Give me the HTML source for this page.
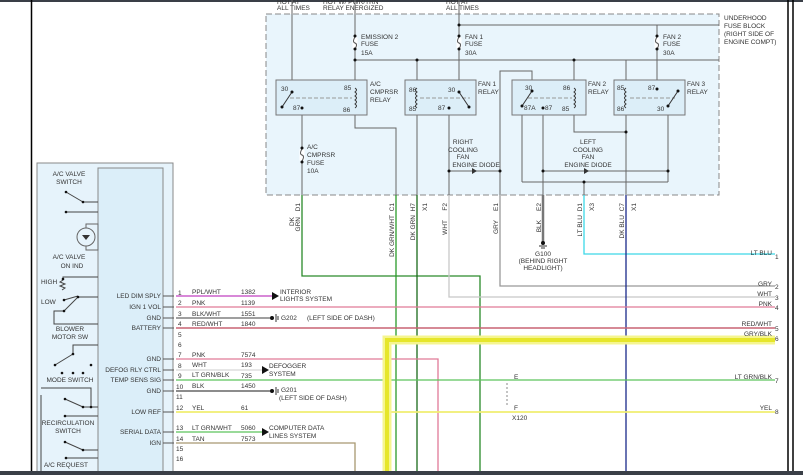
<!DOCTYPE html>
<html><head><meta charset="utf-8"><style>
html,body{margin:0;padding:0;background:#fff;}
svg{display:block;font-family:"Liberation Sans",sans-serif;}
text{font-size:6.5px;fill:#333;}
</style></head><body>
<svg width="803" height="475" viewBox="0 0 803 475" xmlns="http://www.w3.org/2000/svg">
<rect x="0" y="0" width="803" height="475" fill="#fff"/>
<rect x="0" y="0" width="803" height="2" fill="#3a3f47"/>
<line x1="31.5" y1="0" x2="31.5" y2="475" stroke="#000" stroke-width="1.5"/>
<line x1="788" y1="0" x2="788" y2="475" stroke="#000" stroke-width="1.5"/>
<line x1="793" y1="0" x2="793" y2="475" stroke="#000" stroke-width="1.5"/>

<!-- fuse block -->
<rect x="266" y="14" width="453" height="181" fill="#e9f5fc" stroke="#888" stroke-dasharray="6,3" stroke-width="1"/>
<text x="277" y="4">HOT AT</text><text x="277" y="10">ALL TIMES</text>
<text x="323" y="4">HOT W/ PWR/TRN</text><text x="323" y="10">RELAY ENERGIZED</text>
<text x="446" y="4">HOT AT</text><text x="446" y="10">ALL TIMES</text>
<text x="724" y="20">UNDERHOOD</text><text x="724" y="28">FUSE BLOCK</text><text x="724" y="36">(RIGHT SIDE OF</text><text x="724" y="44">ENGINE COMPT)</text>

<g stroke="#666" stroke-width="1" fill="none">
<line x1="292" y1="0" x2="292" y2="80"/>
<line x1="355" y1="0" x2="355" y2="80"/>
<line x1="459" y1="0" x2="459" y2="80"/>
<line x1="459" y1="25" x2="719" y2="25"/>
<line x1="355" y1="60" x2="719" y2="60"/>
<line x1="417" y1="60" x2="417" y2="80"/>
<line x1="574" y1="60" x2="574" y2="80"/>
<line x1="626" y1="60" x2="626" y2="80"/>
<line x1="657" y1="25" x2="657" y2="80"/>
<polyline points="500,195 500,71 532,71 532,80"/>
<line x1="302" y1="115" x2="302" y2="195"/>
<polyline points="355,115 355,128 396,128 396,195"/>
<line x1="417" y1="115" x2="417" y2="195"/>
<line x1="449" y1="115" x2="449" y2="195"/>
<line x1="449" y1="171" x2="500" y2="171"/>
<line x1="522" y1="115" x2="522" y2="182"/>
<line x1="522" y1="182" x2="668" y2="182"/>
<line x1="543" y1="115" x2="543" y2="195"/>
<line x1="543" y1="171" x2="668" y2="171"/>
<polyline points="574,115 574,132 626,132"/>
<line x1="626" y1="115" x2="626" y2="195"/>
<line x1="668" y1="115" x2="668" y2="182"/>
<line x1="584" y1="182" x2="584" y2="195"/>
</g>
<!-- fuses -->
<g fill="#fff" stroke="#fff"><rect x="353" y="38" width="4" height="10"/><rect x="457" y="38" width="4" height="10"/><rect x="655" y="38" width="4" height="10"/><rect x="300" y="150" width="4" height="10"/></g>
<g fill="none" stroke="#555"><path d="M355,37 q-3,5 0,6 q3,1 0,6"/><path d="M459,37 q-3,5 0,6 q3,1 0,6"/><path d="M657,37 q-3,5 0,6 q3,1 0,6"/><path d="M302,149 q-3,5 0,6 q3,1 0,6"/></g>
<g fill="#111"><circle cx="355" cy="36" r="1.5"/><circle cx="355" cy="49" r="1.5"/><circle cx="459" cy="36" r="1.5"/><circle cx="459" cy="49" r="1.5"/><circle cx="657" cy="36" r="1.5"/><circle cx="657" cy="49" r="1.5"/><circle cx="302" cy="148" r="1.5"/><circle cx="302" cy="162" r="1.5"/><circle cx="355" cy="60" r="1.5"/><circle cx="417" cy="60" r="1.5"/><circle cx="459" cy="25" r="1.5"/><circle cx="574" cy="60" r="1.5"/><circle cx="449" cy="171" r="1.5"/><circle cx="500" cy="171" r="1.5"/><circle cx="543" cy="171" r="1.5"/><circle cx="668" cy="171" r="1.5"/><circle cx="584" cy="182" r="1.5"/><circle cx="626" cy="132" r="1.5"/></g>
<text x="361" y="39">EMISSION 2</text><text x="361" y="46">FUSE</text><text x="361" y="55">15A</text>
<text x="465" y="39">FAN 1</text><text x="465" y="46">FUSE</text><text x="465" y="55">30A</text>
<text x="663" y="39">FAN 2</text><text x="663" y="46">FUSE</text><text x="663" y="55">30A</text>
<text x="307" y="149">A/C</text><text x="307" y="157">CMPRSR</text><text x="307" y="165">FUSE</text><text x="307" y="173">10A</text>
<text x="463" y="144" text-anchor="middle">RIGHT</text><text x="463" y="152" text-anchor="middle">COOLING</text><text x="463" y="159" text-anchor="middle">FAN</text><text x="476" y="167" text-anchor="middle">ENGINE DIODE</text>
<text x="588" y="144" text-anchor="middle">LEFT</text><text x="588" y="152" text-anchor="middle">COOLING</text><text x="588" y="159" text-anchor="middle">FAN</text><text x="588" y="167" text-anchor="middle">ENGINE DIODE</text>
<polygon points="472,168 477,171 472,174" fill="#333"/><polygon points="584,168 589,171 584,174" fill="#333"/>

<!-- relays -->
<g fill="#dceef8" stroke="#777" stroke-width="1">
<rect x="276" y="80" width="91" height="35"/><rect x="405" y="80" width="71" height="35"/><rect x="512" y="80" width="74" height="35"/><rect x="614" y="80" width="71" height="35"/>
</g>
<g stroke="#999" stroke-dasharray="4,2"><line x1="290" y1="98" x2="352" y2="98"/><line x1="420" y1="98" x2="470" y2="98"/><line x1="528" y1="98" x2="572" y2="98"/><line x1="630" y1="98" x2="675" y2="98"/></g>
<g stroke="#333" fill="none"><line x1="282" y1="107" x2="292" y2="92"/><line x1="459" y1="92" x2="469" y2="107"/><line x1="522" y1="106" x2="532" y2="91"/><line x1="668" y1="106" x2="678" y2="91"/>
<path d="M355,88 q3,2 0,4 q3,2 0,4 q3,2 0,4 q3,2 0,4 q3,2 0,4"/><path d="M417,88 q-3,2 0,4 q-3,2 0,4 q-3,2 0,4 q-3,2 0,4 q-3,2 0,4"/><path d="M574,88 q3,2 0,4 q3,2 0,4 q3,2 0,4 q3,2 0,4 q3,2 0,4"/><path d="M626,88 q-3,2 0,4 q-3,2 0,4 q-3,2 0,4 q-3,2 0,4 q-3,2 0,4"/></g>
<g fill="#111"><circle cx="282" cy="107" r="1.5"/><circle cx="292" cy="92" r="1.5"/><circle cx="459" cy="92" r="1.5"/><circle cx="469" cy="107" r="1.5"/><circle cx="522" cy="106" r="1.5"/><circle cx="532" cy="91" r="1.5"/><circle cx="678" cy="91" r="1.5"/><circle cx="668" cy="106" r="1.5"/><circle cx="302" cy="108" r="1.5"/><circle cx="449" cy="108" r="1.5"/><circle cx="543" cy="108" r="1.5"/><circle cx="657" cy="89" r="1.5"/></g>
<g font-size="6"><text x="281" y="91">30</text><text x="344" y="90">85</text><text x="293" y="110">87</text><text x="343" y="112">86</text>
<text x="409" y="92">86</text><text x="448" y="92">30</text><text x="409" y="111">85</text><text x="438" y="110">87</text>
<text x="525" y="90">30</text><text x="563" y="90">86</text><text x="524" y="110">87A</text><text x="545" y="110">87</text><text x="562" y="111">85</text>
<text x="617" y="90">85</text><text x="648" y="90">87</text><text x="617" y="111">86</text><text x="657" y="111">30</text></g>
<text x="370" y="86">A/C</text><text x="370" y="94">CMPRSR</text><text x="370" y="102">RELAY</text>
<text x="478" y="86">FAN 1</text><text x="478" y="94">RELAY</text>
<text x="588" y="86">FAN 2</text><text x="588" y="94">RELAY</text>
<text x="687" y="86">FAN 3</text><text x="687" y="94">RELAY</text>

<!-- wires below fuse block -->
<g fill="none" stroke-width="1.3">
<polyline points="302,195 302,276 480,276 480,471" stroke="#2a8a2a"/>
<line x1="396" y1="195" x2="396" y2="471" stroke="#2a9a2a"/>
<line x1="417" y1="195" x2="417" y2="471" stroke="#1a6a1a"/>
<polyline points="449,195 449,297 775,297" stroke="#c8c8c8"/>
<polyline points="500,195 500,286 775,286" stroke="#999"/>
<line x1="543" y1="195" x2="543" y2="242" stroke="#777" stroke-width="2.5"/>
<polyline points="584,195 584,254 775,254" stroke="#3cd8e8"/>
<line x1="626" y1="195" x2="626" y2="471" stroke="#1a2a8a"/>
</g>
<circle cx="543" cy="243" r="2" fill="#111"/><line x1="539" y1="246" x2="547" y2="246" stroke="#333"/><line x1="541" y1="248" x2="545" y2="248" stroke="#333"/>
<text x="543" y="256" text-anchor="middle">G100</text><text x="543" y="263" text-anchor="middle">(BEHIND RIGHT</text><text x="543" y="270" text-anchor="middle">HEADLIGHT)</text>
<g font-size="6">
<text transform="translate(300,203) rotate(-90)" text-anchor="end">D1</text><text transform="translate(294,217) rotate(-90)" text-anchor="end">DK</text><text transform="translate(300,217) rotate(-90)" text-anchor="end">GRN</text>
<text transform="translate(394,203) rotate(-90)" text-anchor="end">C1</text><text transform="translate(394,215) rotate(-90)" text-anchor="end">DK GRN/WHT</text>
<text transform="translate(415,203) rotate(-90)" text-anchor="end">H7</text><text transform="translate(415,215) rotate(-90)" text-anchor="end">DK GRN</text><text transform="translate(427,203) rotate(-90)" text-anchor="end">X1</text>
<text transform="translate(447,203) rotate(-90)" text-anchor="end">F2</text><text transform="translate(447,220) rotate(-90)" text-anchor="end">WHT</text>
<text transform="translate(498,203) rotate(-90)" text-anchor="end">E1</text><text transform="translate(498,220) rotate(-90)" text-anchor="end">GRY</text>
<text transform="translate(541,203) rotate(-90)" text-anchor="end">E2</text><text transform="translate(541,220) rotate(-90)" text-anchor="end">BLK</text>
<text transform="translate(582,203) rotate(-90)" text-anchor="end">D1</text><text transform="translate(582,215) rotate(-90)" text-anchor="end">LT BLU</text><text transform="translate(594,203) rotate(-90)" text-anchor="end">X3</text>
<text transform="translate(624,203) rotate(-90)" text-anchor="end">C7</text><text transform="translate(624,215) rotate(-90)" text-anchor="end">DK BLU</text><text transform="translate(636,203) rotate(-90)" text-anchor="end">X1</text>
</g>

<!-- left module -->
<rect x="37" y="163" width="136" height="315" fill="#e6f3fb" stroke="#888"/>
<rect x="98" y="168" width="65" height="310" fill="#dbeef9" stroke="#888"/>
<g font-size="6" text-anchor="middle">
<text x="69" y="176">A/C VALVE</text><text x="69" y="184">SWITCH</text>
<text x="69" y="259">A/C VALVE</text><text x="72" y="268">ON IND</text>
<text x="70" y="331">BLOWER</text><text x="70" y="339">MOTOR SW</text>
<text x="70" y="382">MODE SWITCH</text>
<text x="68" y="425">RECIRCULATION</text><text x="68" y="433">SWITCH</text>
<text x="66" y="467">A/C REQUEST</text>
</g>
<text x="41" y="284" font-size="6">HIGH</text><text x="41" y="304" font-size="6">LOW</text>
<g stroke="#444" fill="none">
<line x1="66" y1="192" x2="83" y2="202"/><line x1="83" y1="202" x2="98" y2="202"/><line x1="66" y1="212" x2="98" y2="212"/>
<circle cx="86" cy="237" r="9" stroke="#666"/><polyline points="86,228 86,224 98,224 98,250 86,250 86,246" stroke="#666"/>
<polyline points="63,279 63,277 98,277"/><path d="M63,280 l-3,2 l5,2 l-5,2 l5,2 l-3,2"/><line x1="64" y1="300" x2="78" y2="296"/>
<line x1="64" y1="311" x2="78" y2="297"/><polyline points="78,297 98,297"/><polyline points="64,311 54,311 54,324 98,324"/>
<line x1="55" y1="365" x2="73" y2="354"/><polyline points="73,354 73,345 98,345"/>
<polyline points="41,395 41,475"/><polyline points="41,388 91,388 91,407"/>
<line x1="65" y1="399" x2="83" y2="407"/><line x1="83" y1="407" x2="98" y2="407"/><line x1="65" y1="416" x2="98" y2="416"/>
<line x1="65" y1="442" x2="83" y2="450"/><line x1="83" y1="450" x2="98" y2="450"/><line x1="66" y1="458" x2="98" y2="458"/>
</g>
<g fill="#111"><circle cx="66" cy="192" r="1.3"/><circle cx="83" cy="202" r="1.3"/><circle cx="66" cy="212" r="1.3"/><circle cx="63" cy="279" r="1.3"/><circle cx="64" cy="300" r="1.3"/><circle cx="78" cy="297" r="1.3"/><circle cx="64" cy="311" r="1.3"/><circle cx="55" cy="365" r="1.3"/><circle cx="73" cy="354" r="1.3"/><circle cx="62" cy="373" r="1.3"/><circle cx="73" cy="373" r="1.3"/><circle cx="83" cy="373" r="1.3"/><circle cx="91" cy="365" r="1.3"/><circle cx="65" cy="399" r="1.3"/><circle cx="83" cy="407" r="1.3"/><circle cx="91" cy="407" r="1.3"/><circle cx="65" cy="416" r="1.3"/><circle cx="65" cy="442" r="1.3"/><circle cx="83" cy="450" r="1.3"/><circle cx="66" cy="458" r="1.3"/></g>
<polygon points="82,235 90,235 86,240" fill="#333"/>

<g font-size="6" text-anchor="end">
<text x="161" y="298">LED DIM SPLY</text><text x="161" y="309">IGN 1 VOL</text><text x="161" y="320">GND</text><text x="161" y="330">BATTERY</text>
<text x="161" y="361">GND</text><text x="161" y="372">DEFOG RLY CTRL</text><text x="161" y="382">TEMP SENS SIG</text><text x="161" y="393">GND</text>
<text x="161" y="414">LOW REF</text><text x="161" y="434">SERIAL DATA</text><text x="161" y="445">IGN</text>
</g>
<g stroke="#555" fill="none">
<line x1="163" y1="296" x2="174" y2="296"/><line x1="163" y1="307" x2="174" y2="307"/><line x1="163" y1="318" x2="174" y2="318"/><line x1="163" y1="328" x2="174" y2="328"/><line x1="163" y1="359" x2="174" y2="359"/><line x1="163" y1="370" x2="174" y2="370"/><line x1="163" y1="380" x2="174" y2="380"/><line x1="163" y1="391" x2="174" y2="391"/><line x1="163" y1="412" x2="174" y2="412"/><line x1="163" y1="432" x2="174" y2="432"/><line x1="163" y1="443" x2="174" y2="443"/>
</g>
<g font-size="6" fill="#333">
<text x="178" y="295">1</text><text x="178" y="305">2</text><text x="178" y="316">3</text><text x="178" y="326">4</text><text x="178" y="337">5</text><text x="178" y="347">6</text><text x="178" y="357">7</text><text x="178" y="368">8</text><text x="178" y="378">9</text><text x="176" y="389">10</text><text x="176" y="399">11</text><text x="176" y="410">12</text><text x="176" y="430">13</text><text x="176" y="441">14</text><text x="176" y="451">15</text><text x="176" y="461">16</text>
<text x="192" y="294">PPL/WHT</text><text x="241" y="294">1382</text>
<text x="192" y="305">PNK</text><text x="241" y="305">1139</text>
<text x="192" y="316">BLK/WHT</text><text x="241" y="316">1551</text>
<text x="192" y="326">RED/WHT</text><text x="241" y="326">1840</text>
<text x="192" y="357">PNK</text><text x="241" y="357">7574</text>
<text x="192" y="367">WHT</text><text x="241" y="367">193</text>
<text x="192" y="377">LT GRN/BLK</text><text x="241" y="378">735</text>
<text x="192" y="388">BLK</text><text x="241" y="388">1450</text>
<text x="192" y="410">YEL</text><text x="241" y="410">61</text>
<text x="192" y="430">LT GRN/WHT</text><text x="241" y="430">5060</text>
<text x="192" y="441">TAN</text><text x="241" y="441">7573</text>
<text x="280" y="294">INTERIOR</text><text x="280" y="301">LIGHTS SYSTEM</text>
<text x="281" y="320">G202</text><text x="307" y="320">(LEFT SIDE OF DASH)</text>
<text x="269" y="368">DEFOGGER</text><text x="269" y="376">SYSTEM</text>
<text x="281" y="392">G201</text><text x="279" y="400">(LEFT SIDE OF DASH)</text>
<text x="269" y="430">COMPUTER DATA</text><text x="269" y="438">LINES SYSTEM</text>
</g>
<g fill="none" stroke-width="1.3">
<line x1="176" y1="296" x2="272" y2="296" stroke="#c040c0"/>
<line x1="176" y1="307" x2="775" y2="307" stroke="#e07a98"/>
<line x1="176" y1="318" x2="270" y2="318" stroke="#666"/>
<line x1="176" y1="328" x2="775" y2="328" stroke="#c86474" stroke-width="1.6"/>
<polyline points="176,359 438,359 438,471" stroke="#e07a98"/>
<line x1="176" y1="370" x2="262" y2="370" stroke="#d8d8d8"/>
<line x1="176" y1="380" x2="775" y2="380" stroke="#5cc45c"/>
<line x1="176" y1="391" x2="270" y2="391" stroke="#666" stroke-width="1.5"/>
<line x1="176" y1="412" x2="775" y2="412" stroke="#f0ee70" stroke-width="1.8"/>
<line x1="176" y1="432" x2="262" y2="432" stroke="#5cc45c"/>
<polyline points="176,443 355,443 355,471" stroke="#a89870"/>
</g>
<polygon points="272,292 279,296 272,300" fill="#111"/><polygon points="262,366 269,370 262,374" fill="#111"/><polygon points="262,428 269,432 262,436" fill="#111"/>
<circle cx="272" cy="318" r="2" fill="#111"/><line x1="276" y1="314" x2="276" y2="322" stroke="#333"/><line x1="278" y1="316" x2="278" y2="320" stroke="#333"/>
<circle cx="272" cy="391" r="2" fill="#111"/><line x1="276" y1="387" x2="276" y2="395" stroke="#333"/><line x1="278" y1="389" x2="278" y2="393" stroke="#333"/>

<!-- highlighted wire -->
<polyline points="775,340 387,340 387,475" fill="none" stroke="#f5f590" stroke-width="9"/>
<polyline points="775,340 387,340 387,475" fill="none" stroke="#e6e62a" stroke-width="4"/>

<!-- X120 -->
<text x="514" y="379" font-size="6">E</text><text x="514" y="410" font-size="6">F</text><text x="512" y="420" font-size="6">X120</text>
<line x1="507" y1="383" x2="507" y2="405" stroke="#888" stroke-dasharray="2,2"/>

<g font-size="6" text-anchor="end">
<text x="772" y="255">LT BLU</text><text x="772" y="286">GRY</text><text x="772" y="296">WHT</text><text x="772" y="306">PNK</text><text x="772" y="326">RED/WHT</text><text x="772" y="336">GRY/BLK</text><text x="772" y="379">LT GRN/BLK</text><text x="772" y="410">YEL</text>
</g>
<g font-size="6"><text x="775" y="259">1</text><text x="775" y="289">2</text><text x="775" y="300">3</text><text x="775" y="310">4</text><text x="775" y="331">5</text><text x="775" y="341">6</text><text x="775" y="383">7</text><text x="775" y="414">8</text></g>

<rect x="0" y="471" width="803" height="4" fill="#3a3f47"/>
</svg>
</body></html>
